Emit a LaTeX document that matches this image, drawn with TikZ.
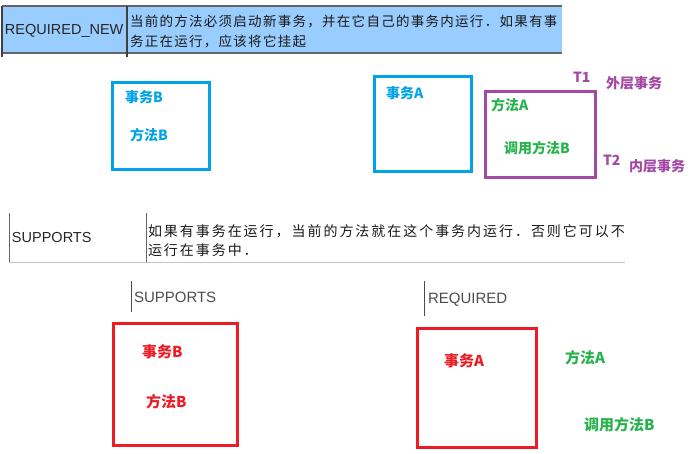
\documentclass[tikz,border=0pt]{standalone}
\usepackage{fontspec}
\setmainfont{Liberation Sans}
\newfontfamily\cjk{Noto Sans CJK SC}
\newfontfamily\cjkA[LetterSpace=9.5]{Noto Sans CJK SC}
\newfontfamily\cjkS[LetterSpace=14]{Noto Sans CJK SC}
\definecolor{bannerblue}{RGB}{153,204,255}
\definecolor{boxblue}{RGB}{0,162,232}
\definecolor{boxpurple}{RGB}{163,73,164}
\definecolor{boxred}{RGB}{237,28,36}
\definecolor{txtgreen}{RGB}{40,178,76}
\definecolor{rulegray}{RGB}{100,100,100}
\definecolor{lightrule}{RGB}{195,195,195}
\tikzset{
  lbl/.style={anchor=west, inner sep=0pt, outer sep=0pt},
  cjkbold/.style={lbl, font=\cjk\bfseries\fontsize{14}{16}\selectfont},
  cjkbig/.style={lbl, font=\cjk\bfseries\fontsize{15}{17}\selectfont},
  tabletxt/.style={lbl, font=\cjkA\fontsize{13.5}{16}\selectfont, text=black!90},
  tabletxtS/.style={lbl, font=\cjkS\fontsize{14}{16}\selectfont, text=black!90},
  latintab/.style={lbl, font=\fontsize{14.5}{16}\selectfont, text=black!85},
  latingray/.style={lbl, font=\fontsize{15}{17}\selectfont, text=black!70},
  bluebox/.style={draw=boxblue, line width=3pt},
  purplebox/.style={draw=boxpurple, line width=3pt},
  redbox/.style={draw=boxred, line width=3pt},
}
\begin{document}
\begin{tikzpicture}[x=1pt,y=-1pt]
\useasboundingbox (0,0) rectangle (690,453);
% banner
\fill[bannerblue] (2,6) rectangle (562,53);
\draw[rulegray, line width=1.8pt] (2,6) -- (562,6);
\draw[rulegray, line width=1.8pt] (2,53) -- (562,53);
\draw[black!75, line width=1.2pt] (2,6) -- (2,57);
\draw[black!75, line width=1.2pt] (127,6) -- (127,57);
\node[latintab] (reqnew) at (5,31) {REQUIRED\_NEW};
\node[tabletxt] (reqnew1) at (130,22) {当前的方法必须启动新事务，并在它自己的事务内运行．如果有事};
\node[tabletxt] (reqnew2) at (130,41) {务正在运行，应该将它挂起};
% top left blue box
\draw[bluebox] (112,82) rectangle (209,169);
\node[cjkbold, text=boxblue] (swB1) at (125,97) {事务B};
\node[cjkbold, text=boxblue] (ffB1) at (130,135) {方法B};
% top right
\draw[bluebox] (374,76) rectangle (471,171);
\node[cjkbold, text=boxblue] (swA1) at (386,93) {事务A};
\draw[purplebox] (485,91) rectangle (595,177);
\node[cjkbold, text=txtgreen] (ffA1) at (491,105) {方法A};
\node[cjkbold, text=txtgreen] (dyB1) at (504,148) {调用方法B};
\node[cjkbold, text=boxpurple] (t1) at (573,77) {T1};
\node[cjkbold, text=boxpurple] (outer) at (606,83) {外层事务};
\node[cjkbold, text=boxpurple] (t2) at (603,160) {T2};
\node[cjkbold, text=boxpurple] (inner) at (629,166) {内层事务};
% SUPPORTS table
\draw[rulegray, line width=1pt] (9,213) -- (9,262);
\draw[rulegray, line width=1pt] (146,213) -- (146,262);
\draw[lightrule, line width=1pt] (9,262) -- (625,262);
\node[latintab] (sup) at (12,238) {SUPPORTS};
\node[tabletxtS] (sup1) at (148,231) {如果有事务在运行，当前的方法就在这个事务内运行．否则它可以不};
\node[tabletxtS] (sup2) at (148,250) {运行在事务中．};
% lower left
\draw[black!70, line width=1pt] (131,281) -- (131,312);
\node[latingray] (sup3) at (134,297) {SUPPORTS};
\draw[redbox] (113,323) rectangle (237,445);
\node[cjkbig, text=boxred] (swB2) at (142,352) {事务B};
\node[cjkbig, text=boxred] (ffB2) at (146,402) {方法B};
% lower right
\draw[black!70, line width=1pt] (424,281) -- (424,316);
\node[latingray] (req) at (428,300) {REQUIRED};
\draw[redbox] (417,328) rectangle (536,447);
\node[cjkbig, text=boxred] (swA2) at (444,361) {事务A};
\node[cjkbig, text=txtgreen] (ffA2) at (565,358) {方法A};
\node[cjkbig, text=txtgreen] (dyB2) at (584,425) {调用方法B};
\end{tikzpicture}
\end{document}
